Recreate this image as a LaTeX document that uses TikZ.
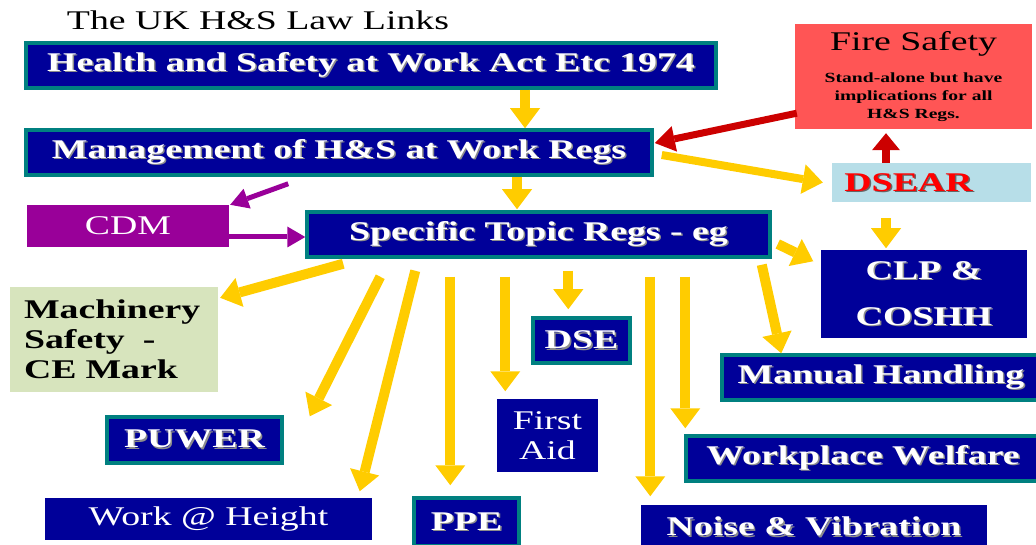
\documentclass[tikz,border=0pt]{standalone}
\usepackage{fontspec}
\setmainfont{Liberation Serif}[FakeStretch=1.4]
\usetikzlibrary{arrows.meta}
\definecolor{regblue}{RGB}{0,0,153}
\definecolor{regteal}{RGB}{0,128,128}
\definecolor{arryellow}{RGB}{255,204,0}
\definecolor{cdmpurple}{RGB}{153,0,153}
\definecolor{firered}{RGB}{255,85,85}
\definecolor{arrred}{RGB}{204,0,0}
\definecolor{dsearblue}{RGB}{183,222,232}
\definecolor{machgreen}{RGB}{215,228,189}
% text with a soft drop shadow
\newcommand{\shd}[2][black!45]{\makebox[0pt][l]{\kern1.5pt\raisebox{-1.5pt}{\textcolor{#1}{#2}}}#2}
\newcommand{\firenote}{\fontsize{14}{18}\selectfont\bfseries}
\tikzset{
	regbox/.style={
			fill=regblue, draw=regteal, line width=3.5pt, text=white,
			font=\fontsize{27}{30}\selectfont\bfseries, inner sep=0pt, align=center
		},
	plainbox/.style={regbox, draw=none},
	fatarrow/.style={line width=10pt, -{Triangle[width=30pt,length=20pt,line width=0pt]}},
	yarrow/.style={fatarrow, draw=arryellow},
	rarrow/.style={fatarrow, draw=arrred, line width=7pt},
	parrow/.style={draw=cdmpurple, line width=5pt, -{Triangle[width=21pt,length=18pt,line width=0pt]}}
}

\begin{document}
\begin{tikzpicture}[x=1pt, y=-1pt]
        \useasboundingbox (0,0) rectangle (1036,545);

        % Title
        \node[font=\fontsize{27}{30}\selectfont] (title) at (258,20) {The UK H\&S Law Links};

        % Main chain of regs
        \node[regbox, minimum width=690pt, minimum height=45pt] (hswa) at (371,65.5) {\shd{Health and Safety at Work Act Etc 1974}};
        \node[regbox, minimum width=626pt, minimum height=45pt] (mgmt) at (339,152.5) {\shd{Management of H\&S at Work Regs}};
        \node[regbox, minimum width=463pt, minimum height=45pt] (spec) at (538.5,234.5) {\shd{Specific Topic Regs - eg}};

        % Side boxes
        \node[fill=firered, minimum width=237pt, minimum height=105pt, inner sep=0pt, align=center,
              font=\fontsize{27}{18}\selectfont] (fire) at (913.5,76.5)
              {Fire Safety\\[14pt]\firenote Stand-alone but have\\\firenote implications for all\\\firenote H\&S Regs.};
        \node[fill=dsearblue, minimum width=199pt, minimum height=39pt, inner sep=0pt, text=red,
              font=\fontsize{27}{30}\selectfont\bfseries, text depth=0pt] (dsear) at (931.5,182.5) {\hspace*{-46pt}\shd[black!60]{DSEAR}};
        \node[fill=cdmpurple, minimum width=202pt, minimum height=42pt, inner sep=0pt, text=white,
              font=\fontsize{27}{30}\selectfont] (cdm) at (128,226) {CDM};
        \node[plainbox, minimum width=206pt, minimum height=88pt, font=\fontsize{27}{46}\selectfont\bfseries] (clp) at (924,294) {\shd{CLP \&}\\\shd{COSHH}};
        \node[fill=machgreen, minimum width=208pt, minimum height=105pt, inner xsep=14pt, text width=180pt,
              align=left, font=\fontsize{27}{30}\selectfont\bfseries] (mach) at (114,339.5) {Machinery\\Safety\ \ -\\CE Mark};

        % Topic boxes
        \node[regbox, minimum width=97pt, minimum height=45pt] (dse) at (581.5,340.5) {\shd{DSE}};
        \node[regbox, minimum width=318pt, minimum height=45pt] (manual) at (881,377.5) {\shd{Manual Handling}};
        \node[plainbox, minimum width=101pt, minimum height=73pt, font=\fontsize{27}{30}\selectfont] (firstaid) at (547.5,435.5) {First\\Aid};
        \node[regbox, minimum width=175pt, minimum height=46pt] (puwer) at (194.5,440) {\shd{PUWER}};
        \node[regbox, minimum width=354pt, minimum height=45pt] (welfare) at (863,458.5) {\shd{Workplace Welfare}};
        \node[plainbox, minimum width=327pt, minimum height=42pt, font=\fontsize{27}{30}\selectfont] (height) at (208.5,519) {Work @ Height};
        \node[regbox, minimum width=105pt, minimum height=48pt] (ppe) at (466.5,522) {\shd{PPE}};
        \node[plainbox, minimum width=346pt, minimum height=45pt] (noise) at (814,527.5) {\shd{Noise \& Vibration}};

        % Arrows down the chain
        \draw[yarrow] ([shift={(154,0)}]hswa.south) -- ([shift={(186,0)}]mgmt.north);
        \draw[yarrow] ([shift={(178,0)}]mgmt.south) -- ([shift={(-21.5,-1)}]spec.north);
        \draw[yarrow, line width=8pt] ([shift={(8,2.5)}]mgmt.east) -- ([shift={(-9,0)}]dsear.west);
        \draw[rarrow, -{Triangle[width=26pt,length=20pt,line width=0pt]}] ([shift={(2,-16)}]fire.south west) -- ([shift={(1,-9.5)}]mgmt.east);
        \draw[rarrow, line width=8pt, -{Triangle[width=28pt,length=17pt,line width=0pt]}] ([shift={(-45.5,0)}]dsear.north) -- ([shift={(-27.5,4)}]fire.south);
        \draw[yarrow] ([shift={(-45.5,16)}]dsear.south) -- ([shift={(-38,0)}]clp.north);

        % CDM arrows
        \draw[parrow] ([shift={(264,7)}]mgmt.south west) -- ([shift={(1,0)}]cdm.north east);
        \draw[parrow] ([shift={(0,11)}]cdm.east) -- ([shift={(0,2.5)}]spec.west);

        % Arrows out of the specific topic regs
        \draw[yarrow] ([shift={(38,5)}]spec.south west) -- ([shift={(2,11)}]mach.north east);
        \draw[yarrow] ([shift={(75,18)}]spec.south west) -- ([shift={(26,1)}]puwer.north east);
        \draw[yarrow] ([shift={(110,12)}]spec.south west) -- ([shift={(-14,-5)}]height.north east);
        \draw[yarrow] ([shift={(145,18)}]spec.south west) -- ([shift={(38,-11)}]ppe.north west);
        \draw[yarrow] ([shift={(200,18)}]spec.south west) -- ([shift={(10,-6)}]firstaid.north west);
        \draw[yarrow] ([shift={(263,12)}]spec.south west) -- ([shift={(37,-7)}]dse.north west);
        \draw[yarrow] ([shift={(345,18)}]spec.south west) -- ([shift={(11,-7)}]noise.north west);
        \draw[yarrow] ([shift={(380,18)}]spec.south west) -- ([shift={(1,-6)}]welfare.north west);
        \draw[yarrow] ([shift={(-10,6)}]spec.south east) -- ([shift={(61,0)}]manual.north west);
        \draw[yarrow] ([shift={(6,9.5)}]spec.east) -- ([shift={(-6,13)}]clp.north west);

    \end{tikzpicture}
\end{document}
